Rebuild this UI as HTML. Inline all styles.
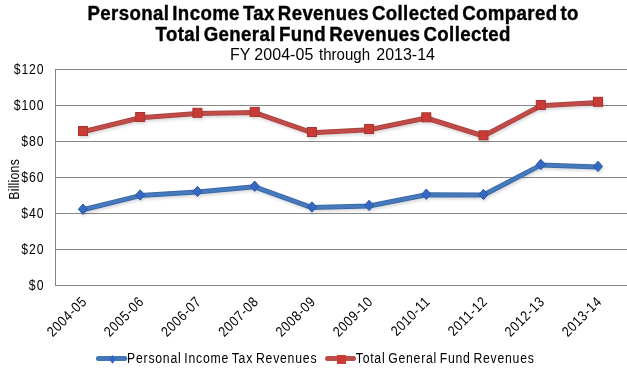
<!DOCTYPE html>
<html><head><meta charset="utf-8"><style>
html,body{margin:0;padding:0;background:#fff;}
body{width:627px;height:374px;overflow:hidden;}
svg{display:block;-webkit-font-smoothing:antialiased;will-change:transform;font-family:"Liberation Sans",sans-serif;}
</style></head><body>
<svg width="627" height="374" viewBox="0 0 627 374">
<defs>
<filter id="sh" x="-10%" y="-20%" width="120%" height="160%"><feGaussianBlur in="SourceAlpha" stdDeviation="1.5"/><feOffset dx="1" dy="2"/><feComponentTransfer><feFuncA type="linear" slope="0.15"/></feComponentTransfer><feMerge><feMergeNode/><feMergeNode in="SourceGraphic"/></feMerge></filter>
</defs>
<rect width="627" height="374" fill="#fff"/>
<g font-weight="bold" font-size="18.67" fill="#000" text-anchor="middle">
<text transform="translate(333,19.8) scale(1.0,1.08)" textLength="491.0" lengthAdjust="spacing" word-spacing="-2.5" stroke="#000" stroke-width="0.35">Personal Income Tax Revenues Collected Compared to</text>
<text transform="translate(333,41) scale(1.0,1.08)" textLength="355.0" lengthAdjust="spacing" word-spacing="-2.5" stroke="#000" stroke-width="0.35">Total General Fund Revenues Collected</text>
</g>
<g font-size="16" fill="#000">
<text transform="translate(230,60.4) scale(1,1.04)">FY</text>
<text transform="translate(254.3,60.4) scale(1,1.04)" textLength="59" lengthAdjust="spacing">2004-05</text>
<text transform="translate(319,60.4) scale(1,1.04)" textLength="51" lengthAdjust="spacingAndGlyphs">through</text>
<text transform="translate(376.3,60.4) scale(1,1.04)">2013-14</text>
</g>
<g stroke="#868686" stroke-width="1" shape-rendering="crispEdges"><line x1="55" y1="69.5" x2="627" y2="69.5"/><line x1="55" y1="105.5" x2="627" y2="105.5"/><line x1="55" y1="141.5" x2="627" y2="141.5"/><line x1="55" y1="177.5" x2="627" y2="177.5"/><line x1="55" y1="213.5" x2="627" y2="213.5"/><line x1="55" y1="249.5" x2="627" y2="249.5"/>
<line x1="55.5" y1="69" x2="55.5" y2="286"/>
<line x1="55" y1="285.5" x2="627" y2="285.5"/>
</g>
<g font-size="13.33" fill="#000"><text transform="translate(43.5,73.8) scale(0.92,1.08)" text-anchor="end" textLength="32.23" lengthAdjust="spacing">$120</text><text transform="translate(43.5,109.8) scale(0.92,1.08)" text-anchor="end" textLength="32.23" lengthAdjust="spacing">$100</text><text transform="translate(43.5,145.8) scale(0.92,1.08)" text-anchor="end" textLength="24.17" lengthAdjust="spacing">$80</text><text transform="translate(43.5,181.8) scale(0.92,1.08)" text-anchor="end" textLength="24.17" lengthAdjust="spacing">$60</text><text transform="translate(43.5,217.8) scale(0.92,1.08)" text-anchor="end" textLength="24.17" lengthAdjust="spacing">$40</text><text transform="translate(43.5,253.8) scale(0.92,1.08)" text-anchor="end" textLength="24.17" lengthAdjust="spacing">$20</text><text transform="translate(43.5,289.8) scale(0.92,1.08)" text-anchor="end" textLength="16.12" lengthAdjust="spacing">$0</text></g>
<text transform="translate(19.2,179.5) rotate(-90) scale(0.92,1.08)" font-size="13.33" text-anchor="middle" fill="#000" textLength="44.07" lengthAdjust="spacing">Billions</text>
<g font-size="13.33" fill="#000"><text transform="translate(80.5,296.2) rotate(-45) translate(0,9.5) scale(0.92,1.08)" text-anchor="end" textLength="53.17" lengthAdjust="spacing">2004-05</text><text transform="translate(137.7,296.2) rotate(-45) translate(0,9.5) scale(0.92,1.08)" text-anchor="end" textLength="53.17" lengthAdjust="spacing">2005-06</text><text transform="translate(194.9,296.2) rotate(-45) translate(0,9.5) scale(0.92,1.08)" text-anchor="end" textLength="53.17" lengthAdjust="spacing">2006-07</text><text transform="translate(252.2,296.2) rotate(-45) translate(0,9.5) scale(0.92,1.08)" text-anchor="end" textLength="53.17" lengthAdjust="spacing">2007-08</text><text transform="translate(309.4,296.2) rotate(-45) translate(0,9.5) scale(0.92,1.08)" text-anchor="end" textLength="53.17" lengthAdjust="spacing">2008-09</text><text transform="translate(366.6,296.2) rotate(-45) translate(0,9.5) scale(0.92,1.08)" text-anchor="end" textLength="53.17" lengthAdjust="spacing">2009-10</text><text transform="translate(423.8,296.2) rotate(-45) translate(0,9.5) scale(0.92,1.08)" text-anchor="end" textLength="52.10" lengthAdjust="spacing">2010-11</text><text transform="translate(481.0,296.2) rotate(-45) translate(0,9.5) scale(0.92,1.08)" text-anchor="end" textLength="52.10" lengthAdjust="spacing">2011-12</text><text transform="translate(538.3,296.2) rotate(-45) translate(0,9.5) scale(0.92,1.08)" text-anchor="end" textLength="53.17" lengthAdjust="spacing">2012-13</text><text transform="translate(595.5,296.2) rotate(-45) translate(0,9.5) scale(0.92,1.08)" text-anchor="end" textLength="53.17" lengthAdjust="spacing">2013-14</text></g>
<g filter="url(#sh)">
<polyline points="83.0,131.7 140.2,117.7 197.4,113.5 254.7,112.6 311.9,132.7 369.1,129.7 426.3,118.0 483.5,136.0 540.8,105.7 598.0,102.5" fill="none" stroke="#A94441" stroke-width="5" stroke-linejoin="round" stroke-linecap="round"/>
<polyline points="83.0,131.7 140.2,117.7 197.4,113.5 254.7,112.6 311.9,132.7 369.1,129.7 426.3,118.0 483.5,136.0 540.8,105.7 598.0,102.5" fill="none" stroke="#C24C49" stroke-width="3" stroke-linejoin="round" stroke-linecap="round"/>
<g fill="#CB3A35" stroke="#A93330" stroke-width="1"><rect x="78.5" y="126.5" width="9" height="9"/><rect x="135.7" y="112.5" width="9" height="9"/><rect x="192.9" y="108.3" width="9" height="9"/><rect x="250.2" y="107.4" width="9" height="9"/><rect x="307.4" y="127.5" width="9" height="9"/><rect x="364.6" y="124.5" width="9" height="9"/><rect x="421.8" y="112.8" width="9" height="9"/><rect x="479.0" y="130.8" width="9" height="9"/><rect x="536.3" y="100.5" width="9" height="9"/><rect x="593.5" y="97.3" width="9" height="9"/></g>
</g>
<g filter="url(#sh)">
<polyline points="83.0,209.8 140.2,195.6 197.4,192.0 254.7,186.8 311.9,207.6 369.1,206.0 426.3,194.8 483.5,195.0 540.8,165.1 598.0,167.0" fill="none" stroke="#3B69A8" stroke-width="5" stroke-linejoin="round" stroke-linecap="round"/>
<polyline points="83.0,209.8 140.2,195.6 197.4,192.0 254.7,186.8 311.9,207.6 369.1,206.0 426.3,194.8 483.5,195.0 540.8,165.1 598.0,167.0" fill="none" stroke="#467ABC" stroke-width="3" stroke-linejoin="round" stroke-linecap="round"/>
<g fill="#3467C2" stroke="#2B58A6" stroke-width="1"><path d="M83.0,204.0 L87.6,209.2 L83.0,214.4 L78.4,209.2Z"/><path d="M140.2,189.8 L144.8,195.0 L140.2,200.2 L135.6,195.0Z"/><path d="M197.4,186.2 L202.0,191.4 L197.4,196.6 L192.8,191.4Z"/><path d="M254.7,181.0 L259.3,186.2 L254.7,191.4 L250.1,186.2Z"/><path d="M311.9,201.8 L316.5,207.0 L311.9,212.2 L307.3,207.0Z"/><path d="M369.1,200.2 L373.7,205.4 L369.1,210.6 L364.5,205.4Z"/><path d="M426.3,189.0 L430.9,194.2 L426.3,199.4 L421.7,194.2Z"/><path d="M483.5,189.2 L488.1,194.4 L483.5,199.6 L478.9,194.4Z"/><path d="M540.8,159.3 L545.4,164.5 L540.8,169.7 L536.2,164.5Z"/><path d="M598.0,161.2 L602.6,166.4 L598.0,171.6 L593.4,166.4Z"/></g>
</g>
<g>
<line x1="98.4" y1="358.4" x2="124.8" y2="358.4" stroke="#4376B8" stroke-width="5" stroke-linecap="round"/>
<path d="M112.5,355 L116,359.3 L112.5,363.8 L109,359.3Z" fill="#3467C2"/>
<text transform="translate(127,362.8) scale(0.92,1.08)" font-size="13.33" fill="#000" textLength="206.0" word-spacing="-1.5" lengthAdjust="spacing">Personal Income Tax Revenues</text>
<line x1="327.5" y1="358.4" x2="353.5" y2="358.4" stroke="#BE4B48" stroke-width="5" stroke-linecap="round"/>
<rect x="337" y="355" width="9" height="9" fill="#CB3A35"/>
<text transform="translate(355.8,362.8) scale(0.92,1.08)" font-size="13.33" fill="#000" textLength="193.5" word-spacing="-1.5" lengthAdjust="spacing">Total General Fund Revenues</text>
</g>
</svg>
</body></html>
